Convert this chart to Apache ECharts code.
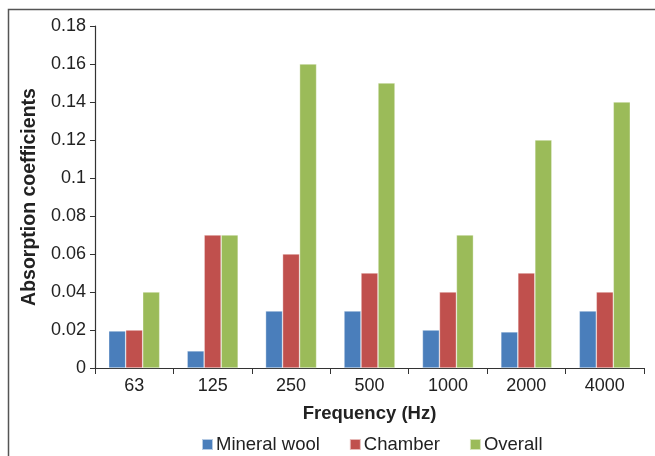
<!DOCTYPE html>
<html><head><meta charset="utf-8">
<script src="https://cdn.jsdelivr.net/npm/echarts@6/dist/echarts.min.js"></script>
<style>html,body{margin:0;padding:0;background:#fff}#c{width:655px;height:456px}</style>
</head><body><div id="c"></div>
<script>
const categories = ['63','125','250','500','1000','2000','4000'];
const mineralWool = [0.0195, 0.009, 0.03, 0.03, 0.02, 0.019, 0.03];
const chamber = [0.02, 0.07, 0.06, 0.05, 0.04, 0.05, 0.04];
const overall = [0.04, 0.07, 0.16, 0.15, 0.07, 0.12, 0.14];
const font = 'Liberation Sans, Arial, sans-serif';
const chart = echarts.init(document.getElementById('c'));
function bar(name, data, color){
  return {name, type:'bar', data, barWidth:17, barGap:'0%',
    itemStyle:{color, borderColor:'rgba(255,255,255,0.6)', borderWidth:0.6}};
}
chart.setOption({
  animation:false,
  textStyle:{fontFamily:font},
  graphic:[{type:'rect', shape:{x:8.5,y:9.5,width:700,height:500}, style:{fill:'none', stroke:'#555', lineWidth:1.5}}],
  grid:{left:95, right:11, top:26, bottom:88},
  legend:{top:430, left:196, itemWidth:11, itemHeight:11, itemGap:29,
    icon:'rect', textStyle:{fontSize:18.5, color:'#222', fontFamily:font, padding:[0,0,0,-2]},
    data:['Mineral wool','Chamber','Overall']},
  xAxis:{type:'category', data:categories,
    name:'Frequency (Hz)', nameLocation:'middle', nameGap:36,
    nameTextStyle:{fontSize:18.5, fontWeight:'bold', color:'#222'},
    axisLine:{lineStyle:{color:'#333', width:1.2}},
    axisTick:{show:true, length:6, alignWithLabel:false, lineStyle:{color:'#333'}},
    axisLabel:{fontSize:18, color:'#222', margin:9}},
  yAxis:{type:'value', min:0, max:0.18, interval:0.02,
    name:'Absorption coefficients', nameLocation:'middle', nameGap:53,
    nameTextStyle:{fontSize:19.5, fontWeight:'bold', color:'#222'},
    axisLine:{show:true, lineStyle:{color:'#333', width:1.2}},
    axisTick:{show:true, length:5, lineStyle:{color:'#333'}},
    splitLine:{show:false},
    axisLabel:{fontSize:18, color:'#222', margin:9,
      formatter:v=>String(Math.round(v*100)/100)}},
  series:[bar('Mineral wool', mineralWool, '#4a7ebb'),
          bar('Chamber', chamber, '#c0504d'),
          bar('Overall', overall, '#9bbb59')]
});
</script></body></html>
